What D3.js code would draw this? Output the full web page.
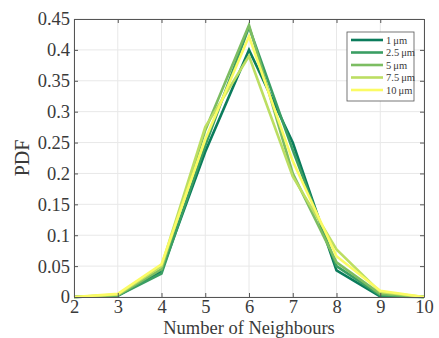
<!DOCTYPE html>
<html>
<head>
<meta charset="utf-8">
<script src="https://cdn.jsdelivr.net/npm/d3@7"></script>
<style>
  html, body { margin: 0; padding: 0; background: #fff; }
  svg { display: block; }
  text { font-family: "Liberation Serif", "DejaVu Serif", serif; fill: #3a3a3a; }
</style>
</head>
<body>
<svg id="chart" width="439" height="338"></svg>
<script>
// Neighbour counts on the x axis
const neighbours = [2, 3, 4, 5, 6, 7, 8, 9, 10];

// PDF of neighbour count for each length scale
const series1um   = [0, 0.002, 0.042, 0.235, 0.400, 0.250, 0.043, 0.001, 0];
const series2p5um = [0, 0.002, 0.038, 0.245, 0.437, 0.238, 0.050, 0.003, 0];
const series5um   = [0, 0.003, 0.045, 0.270, 0.440, 0.200, 0.056, 0.005, 0];
const series7p5um = [0, 0.004, 0.050, 0.275, 0.390, 0.195, 0.077, 0.008, 0];
const series10um  = [0, 0.005, 0.053, 0.255, 0.422, 0.220, 0.066, 0.010, 0];

const seriesLabels = ["1\u2009\u03bcm", "2.5\u2009\u03bcm", "5\u2009\u03bcm", "7.5\u2009\u03bcm", "10\u2009\u03bcm"];
const seriesColors = ["#0b7c5c", "#3a9e63", "#7cbd62", "#bcde62", "#fbfb64"];

const xTicks = [2, 3, 4, 5, 6, 7, 8, 9, 10];
const yTicks = [0, 0.05, 0.1, 0.15, 0.2, 0.25, 0.3, 0.35, 0.4, 0.45];
const yTickLabels = ["0", "0.05", "0.1", "0.15", "0.2", "0.25", "0.3", "0.35", "0.4", "0.45"];

const allSeries = [series1um, series2p5um, series5um, series7p5um, series10um];

const svg = d3.select("#chart");
const plotLeft = 74, plotRight = 424, plotTop = 19, plotBottom = 297;

const x = d3.scaleLinear().domain([2, 10]).range([plotLeft, plotRight]);
const y = d3.scaleLinear().domain([0, 0.45]).range([plotBottom, plotTop]);

// grid
const grid = svg.append("g");
grid.selectAll(".gx").data(xTicks).join("line")
  .attr("x1", d => x(d)).attr("x2", d => x(d))
  .attr("y1", plotTop).attr("y2", plotBottom)
  .attr("stroke", "#e8e8e8").attr("stroke-width", 1);
grid.selectAll(".gy").data(yTicks).join("line")
  .attr("x1", plotLeft).attr("x2", plotRight)
  .attr("y1", d => y(d)).attr("y2", d => y(d))
  .attr("stroke", "#e8e8e8").attr("stroke-width", 1);

// data lines
const line = d3.line().x((d, i) => x(neighbours[i])).y(d => y(d));
svg.append("g").selectAll("path").data(allSeries).join("path")
  .attr("d", line)
  .attr("fill", "none")
  .attr("stroke", (d, i) => seriesColors[i])
  .attr("stroke-width", 2.6)
  .attr("stroke-linejoin", "miter");

// axes box with inward ticks
const axisColor = "#555";
const tickLen = 4;
const bottomAxis = d3.axisBottom(x).tickValues(xTicks).tickSizeInner(-tickLen).tickSizeOuter(0).tickPadding(3);
const topAxis = d3.axisTop(x).tickValues(xTicks).tickSizeInner(-tickLen).tickSizeOuter(0).tickFormat("");
const leftAxis = d3.axisLeft(y).tickValues(yTicks).tickSizeInner(-tickLen).tickSizeOuter(0).tickPadding(4)
  .tickFormat((d, i) => yTickLabels[i]);
const rightAxis = d3.axisRight(y).tickValues(yTicks).tickSizeInner(-tickLen).tickSizeOuter(0).tickFormat("");

function styleAxis(g) {
  g.select(".domain").attr("stroke", axisColor).attr("stroke-width", 1);
  g.selectAll(".tick line").attr("stroke", axisColor).attr("stroke-width", 1);
  g.selectAll(".tick text").attr("font-family", "Liberation Serif, serif").attr("font-size", 18.5).attr("fill", "#3a3a3a");
}
svg.append("g").attr("transform", `translate(0,${plotBottom})`).call(bottomAxis).call(styleAxis);
svg.append("g").attr("transform", `translate(0,${plotTop})`).call(topAxis).call(styleAxis);
svg.append("g").attr("transform", `translate(${plotLeft},0)`).call(leftAxis).call(styleAxis);
svg.append("g").attr("transform", `translate(${plotRight},0)`).call(rightAxis).call(styleAxis);

// axis titles
svg.append("text")
  .attr("x", (plotLeft + plotRight) / 2).attr("y", 333.5)
  .attr("text-anchor", "middle").attr("font-size", 18.5)
  .text("Number of Neighbours");
svg.append("text")
  .attr("transform", `translate(29,${(plotTop + plotBottom) / 2}) rotate(-90)`)
  .attr("text-anchor", "middle").attr("font-size", 20)
  .text("PDF");

// legend
const legend = svg.append("g");
legend.append("rect")
  .attr("x", 347).attr("y", 32).attr("width", 67).attr("height", 69)
  .attr("fill", "#fff").attr("stroke", "#555").attr("stroke-width", 0.8);
const rowY = [40, 52.5, 65, 77.5, 90];
const rows = legend.selectAll("g.row").data(seriesLabels).join("g")
  .attr("transform", (d, i) => `translate(0,${rowY[i]})`);
rows.append("line")
  .attr("x1", 351).attr("x2", 383).attr("y1", 0).attr("y2", 0)
  .attr("stroke", (d, i) => seriesColors[i]).attr("stroke-width", 2.6);
rows.append("text")
  .attr("x", 386).attr("y", 3.5).attr("font-size", 10.5)
  .text(d => d);
</script>
</body>
</html>
